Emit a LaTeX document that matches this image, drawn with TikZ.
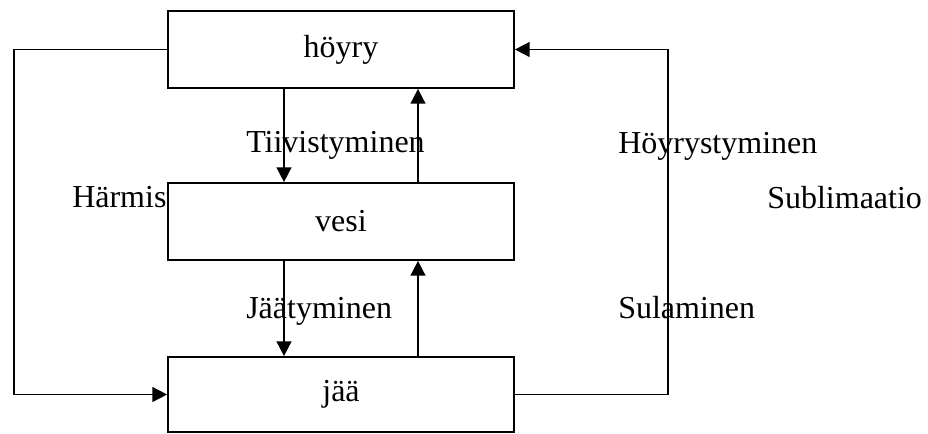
\documentclass[tikz,border=0pt]{standalone}
\usepackage{fontspec}
\setmainfont{Liberation Serif}
\usetikzlibrary{arrows.meta}
\begin{document}
\begin{tikzpicture}[x=0.75pt,y=-0.75pt,
  statebox/.style={draw,line width=1.3pt,fill=white,minimum width=259.5pt,minimum height=57.75pt,inner sep=0pt,font=\fontsize{24}{28}\selectfont},
  lbl/.style={anchor=base west,inner sep=0pt,font=\fontsize{24}{28}\selectfont},
  conn/.style={line width=1.3pt,-{Triangle[length=11pt,width=11pt]}},
  plain/.style={line width=1.3pt}]
\useasboundingbox (0,0) rectangle (928,433);
% label partly hidden behind the vesi box
\node[lbl] (harm) at (72,207) {Härmistyminen};
\node[statebox] (hoyry) at (341,49.5) {höyry};
\node[statebox] (vesi) at (341,221.5) {vesi};
\node[statebox,minimum height=56.25pt] (jaa) at (341,394.5) {jää};
\coordinate (L) at (14,0);
\coordinate (R) at (668,0);
\coordinate (D) at (284,0);
\coordinate (U) at (418,0);
\draw[conn] (hoyry.west) -- (hoyry.west -| L) -- (jaa.west -| L) -- (jaa.west);
\draw[conn] (jaa.east) -- (jaa.east -| R) -- (hoyry.east -| R) -- (hoyry.east);
\draw[conn] (hoyry.south -| D) -- (vesi.north -| D);
\draw[conn] (vesi.north -| U) -- (hoyry.south -| U);
\draw[conn] (vesi.south -| D) -- (jaa.north -| D);
\draw[conn] (jaa.north -| U) -- (vesi.south -| U);
\node[lbl] (tiiv) at (246,152.5) {Tiivistyminen};
\node[lbl] (jaat) at (246,318) {Jäätyminen};
\node[lbl] (hoyst) at (618,153) {Höyrystyminen};
\node[lbl] (subl) at (767,208) {Sublimaatio};
\node[lbl] (sula) at (618,318) {Sulaminen};
\end{tikzpicture}
\end{document}
